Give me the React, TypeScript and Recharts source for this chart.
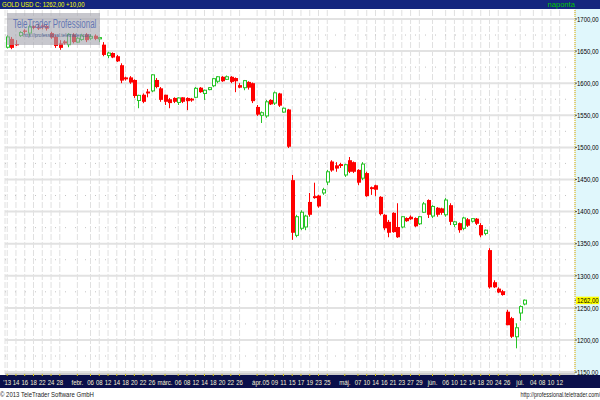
import {ComposedChart, Bar, XAxis, YAxis, CartesianGrid} from 'recharts';

// GOLD USD daily candles, Jan 10 - Jul 3 2013
const opens = [
  1656, 1669, 1661, 1674, 1682, 1678, 1689, 1688, 1690, 1689,
  1678, 1672, 1662, 1665, 1660, 1676, 1664, 1668, 1676, 1670,
  1674, 1669, 1660, 1643, 1647, 1642, 1628, 1609, 1609, 1605,
  1573, 1582, 1587, 1588, 1605, 1592, 1582, 1575, 1577, 1570,
  1578, 1577, 1576, 1578, 1593, 1584, 1590, 1596, 1603, 1610,
  1606, 1610, 1608, 1597, 1593, 1602, 1600, 1563, 1550, 1549,
  1574, 1569, 1584, 1555, 1559, 1449, 1363, 1374, 1376, 1415,
  1424, 1425, 1429, 1446, 1478, 1472, 1474, 1457, 1480, 1477,
  1465, 1452, 1460, 1438, 1441, 1423, 1395, 1384, 1398, 1376,
  1376, 1390, 1392, 1390, 1381, 1399, 1418, 1393, 1406, 1405,
  1395, 1410, 1380, 1382, 1374, 1388, 1385, 1389, 1379, 1366,
  1340, 1290, 1280, 1276, 1244, 1234, 1205, 1242, 1256,
];
const highs = [
  1675, 1672, 1667, 1681, 1684, 1691, 1690, 1692, 1693, 1692,
  1680, 1675, 1667, 1667, 1678, 1678, 1672, 1677, 1678, 1676,
  1676, 1672, 1664, 1649, 1648, 1644, 1631, 1610, 1611, 1606,
  1582, 1584, 1591, 1614, 1608, 1594, 1582, 1577, 1578, 1578,
  1578, 1578, 1577, 1594, 1594, 1590, 1594, 1608, 1611, 1611,
  1612, 1611, 1609, 1600, 1605, 1603, 1601, 1566, 1556, 1574,
  1575, 1587, 1585, 1562, 1560, 1457, 1395, 1402, 1395, 1429,
  1445, 1426, 1437, 1465, 1480, 1477, 1476, 1474, 1485, 1478,
  1466, 1477, 1462, 1439, 1442, 1424, 1396, 1387, 1399, 1413,
  1393, 1391, 1394, 1391, 1393, 1415, 1419, 1410, 1407, 1406,
  1421, 1413, 1385, 1383, 1392, 1390, 1390, 1390, 1382, 1372,
  1343, 1293, 1282, 1278, 1247, 1236, 1226, 1254, 1263,
];
const lows = [
  1654, 1653, 1658, 1672, 1677, 1673, 1684, 1683, 1684, 1682,
  1669, 1655, 1652, 1660, 1656, 1662, 1663, 1666, 1664, 1667,
  1667, 1664, 1642, 1639, 1639, 1633, 1600, 1604, 1599, 1577,
  1561, 1569, 1578, 1586, 1592, 1571, 1566, 1561, 1569, 1566,
  1569, 1558, 1571, 1577, 1585, 1574, 1589, 1594, 1600, 1602,
  1605, 1600, 1586, 1592, 1589, 1590, 1569, 1549, 1538, 1546,
  1566, 1566, 1563, 1554, 1499, 1356, 1360, 1371, 1371, 1392,
  1420, 1406, 1426, 1441, 1462, 1462, 1468, 1454, 1460, 1460,
  1441, 1449, 1423, 1426, 1424, 1394, 1371, 1360, 1367, 1359,
  1374, 1384, 1387, 1376, 1379, 1398, 1390, 1390, 1392, 1395,
  1392, 1379, 1376, 1367, 1371, 1376, 1383, 1379, 1360, 1363,
  1280, 1281, 1273, 1269, 1223, 1203, 1187, 1230, 1254,
];
const closes = [
  1672, 1655, 1659, 1679, 1680, 1688, 1686, 1685, 1687, 1685,
  1671, 1658, 1655, 1662, 1676, 1664, 1670, 1674, 1667, 1673,
  1669, 1671, 1644, 1647, 1640, 1634, 1604, 1606, 1601, 1580,
  1581, 1571, 1584, 1613, 1594, 1574, 1571, 1569, 1571, 1577,
  1571, 1572, 1573, 1592, 1586, 1589, 1593, 1607, 1610, 1603,
  1610, 1602, 1603, 1593, 1604, 1593, 1572, 1551, 1554, 1571,
  1567, 1585, 1565, 1561, 1501, 1367, 1392, 1399, 1393, 1395,
  1421, 1408, 1434, 1462, 1464, 1467, 1471, 1473, 1462, 1462,
  1445, 1474, 1424, 1435, 1434, 1396, 1374, 1367, 1368, 1360,
  1392, 1385, 1388, 1377, 1392, 1412, 1395, 1408, 1395, 1398,
  1418, 1384, 1384, 1371, 1390, 1378, 1389, 1381, 1363, 1371,
  1282, 1282, 1274, 1270, 1223, 1205, 1219, 1252, 1262,
];

// trading-day slots on the axis (data + empty days up to mid July)
const slotCount = 130;

const tickIdx = [
  0, 2, 4, 6, 8, 10, 12,
  16, 19, 21, 23, 25, 27, 29, 31, 33,
  36, 39, 41, 43, 45, 47, 49, 51, 53,
  57, 59, 61, 63, 65, 67, 69, 71, 73,
  77, 80, 82, 84, 86, 88, 90, 92, 94,
  97, 100, 102, 104, 106, 108, 110, 112, 114,
  117, 120, 122, 124, 126,
];
const tickText = [
  "'13", '14', '16', '18', '22', '24', '28',
  'febr.', '06', '08', '12', '14', '18', '20', '22', '26',
  'márc.', '06', '08', '12', '14', '18', '20', '22', '26',
  'ápr.', '05', '09', '11', '15', '17', '19', '23', '25',
  'máj.', '07', '10', '14', '16', '21', '23', '27', '29',
  'jún.', '06', '10', '12', '14', '18', '20', '24', '26',
  'júl.', '04', '08', '10', '12',
];

const priceTicks = [1150, 1200, 1250, 1300, 1350, 1400, 1450, 1500, 1550, 1600, 1650, 1700];
const minorLines = [1175, 1225, 1275, 1325, 1375, 1425, 1475, 1525, 1575, 1625, 1675];
const lastClose = 1262;

const RED = '#ff0000';
const GREEN = '#27c427';
const FONT = '"Liberation Sans", Arial, sans-serif';

const data = Array.from({length: slotCount}, (_, i) => ({
  i,
  open: opens[i],
  high: highs[i],
  low: lows[i],
  close: closes[i],
}));

const labelOf: {[k: number]: string} = {};
tickIdx.forEach((v, k) => {
  labelOf[v] = tickText[k];
});

const fmt = (v: number) => v.toFixed(2).replace('.', ',');

const Candle = (props: any) => {
  const {x, y, width, height, payload} = props;
  if (!payload || payload.open == null) return null;
  const {open, close, high, low} = payload;
  const top = Math.min(y, y + height);
  const h = Math.abs(height);
  const k = high === low ? 0 : h / (high - low);
  const n = Math.floor(x + width / 2);
  const cx = n + 0.5;
  const bodyTop = top + (high - Math.max(open, close)) * k;
  const bodyH = Math.max((Math.max(open, close) - Math.min(open, close)) * k, 1);
  const up = close >= open;
  const color = up ? GREEN : RED;
  return (
    <g>
      <line x1={cx} x2={cx} y1={top} y2={top + h} stroke={color} strokeWidth={1} />
      {up ? (
        <rect x={n - 0.5} y={bodyTop} width={3} height={bodyH} fill="#fff" stroke={color} strokeWidth={1} />
      ) : (
        <rect x={n - 1} y={bodyTop} width={4} height={bodyH} fill={color} />
      )}
    </g>
  );
};

const DateTick = ({x, payload}: any) => (
  <text
    transform={`translate(${x},384.5) scale(0.75,1)`}
    textAnchor="middle"
    fontSize={8}
    fontFamily={FONT}
    fill="#f6f2d6">
    {labelOf[payload.value]}
  </text>
);

const PriceTick = ({y, payload}: any) => {
  const v = payload.value;
  if (v === lastClose) {
    return (
      <g>
        <rect x={576} y={y - 3.5} width={23} height={7.5} fill="#ffff00" />
        <text transform={`translate(577,${y + 2.8}) scale(0.75,1)`} fontSize={8} fontFamily={FONT} fill="#000">
          {fmt(v)}
        </text>
      </g>
    );
  }
  return (
    <text transform={`translate(577,${y + 2.8}) scale(0.75,1)`} fontSize={8} fontFamily={FONT} fill="#000">
      {fmt(v)}
    </text>
  );
};

const squish = (origin: string): React.CSSProperties => ({
  position: 'absolute',
  whiteSpace: 'nowrap',
  transform: 'scaleX(0.75)',
  transformOrigin: origin,
});

export default function App() {
  return (
    <div
      style={{
        position: 'absolute',
        left: 0,
        top: 0,
        width: 600,
        height: 400,
        background: '#fff',
        overflow: 'hidden',
        fontFamily: FONT,
      }}>
      {/* header */}
      <div style={{position: 'absolute', left: 0, top: 0, width: 600, height: 9, background: '#15267e'}} />
      <div style={{...squish('left'), left: 2, top: 0, fontSize: 8, lineHeight: '9px', color: '#ffff00'}}>
        GOLD USD C: 1262,00 +10,00
      </div>
      <div style={{...squish('right'), right: 25, top: 0, fontSize: 8, lineHeight: '9px', color: '#00c800', transform: 'scaleX(0.95)'}}>
        naponta
      </div>
      {/* price axis panel and date band */}
      <div style={{position: 'absolute', left: 575, top: 9, width: 25, height: 366, background: '#e0f7fc'}} />
      <div style={{position: 'absolute', left: 0, top: 375, width: 600, height: 13, background: '#0a0f4a'}} />

      <div style={{position: 'absolute', left: 0, top: 0}}>
        <ComposedChart
          width={600}
          height={400}
          data={data}
          margin={{top: 10, right: 0, bottom: 12, left: 5}}>
          <CartesianGrid horizontal={false} stroke="#e0e0e0" strokeDasharray="6 2" />
          <CartesianGrid vertical={false} horizontalValues={priceTicks} stroke="#e2e2e2" strokeWidth={2} />
          <CartesianGrid vertical={false} horizontalValues={minorLines} stroke="#c4c4c4" strokeDasharray="1 9" />
          <XAxis
            dataKey="i"
            type="category"
            ticks={tickIdx}
            interval={0}
            height={14}
            tick={<DateTick />}
            tickSize={2}
            tickLine={{stroke: '#d8c000'}}
            axisLine={{stroke: '#9a9a9a'}}
          />
          <YAxis
            orientation="right"
            type="number"
            width={25}
            domain={[1147, 1714]}
            allowDataOverflow
            ticks={[...priceTicks, lastClose]}
            interval={0}
            tick={<PriceTick />}
            tickSize={2}
            tickLine={{stroke: '#555'}}
            axisLine={{stroke: '#d4b400', strokeDasharray: '1 1'}}
          />
          <Bar
            dataKey={(d: any) => (d.high == null ? null : [d.low, d.high])}
            shape={(p: any) => <Candle {...p} />}
            isAnimationActive={false}
          />
        </ComposedChart>
      </div>

      {/* watermark */}
      <div
        style={{
          position: 'absolute',
          left: 7,
          top: 13,
          width: 93,
          height: 32,
          background: 'rgba(165,165,175,0.62)',
        }}
      />
      <div style={{...squish('left'), left: 13, top: 17, fontSize: 12, lineHeight: '14px', color: '#6577b4', transform: 'scaleX(0.66)'}}>
        TeleTrader Professional
      </div>
      <div style={{...squish('left'), left: 23, top: 32, fontSize: 6, lineHeight: '7px', color: '#4e5f8e', transform: 'scaleX(0.78)'}}>
        http://professional.teletrader.com
      </div>

      {/* footer */}
      <div style={{...squish('left'), left: 0, top: 389, fontSize: 8, lineHeight: '11px', color: '#222'}}>
        © 2013 TeleTrader Software GmbH
      </div>
      <div style={{...squish('right'), right: 0, top: 389, fontSize: 7.2, lineHeight: '11px', color: '#222'}}>
        http://professional.teletrader.com/
      </div>
    </div>
  );
}
